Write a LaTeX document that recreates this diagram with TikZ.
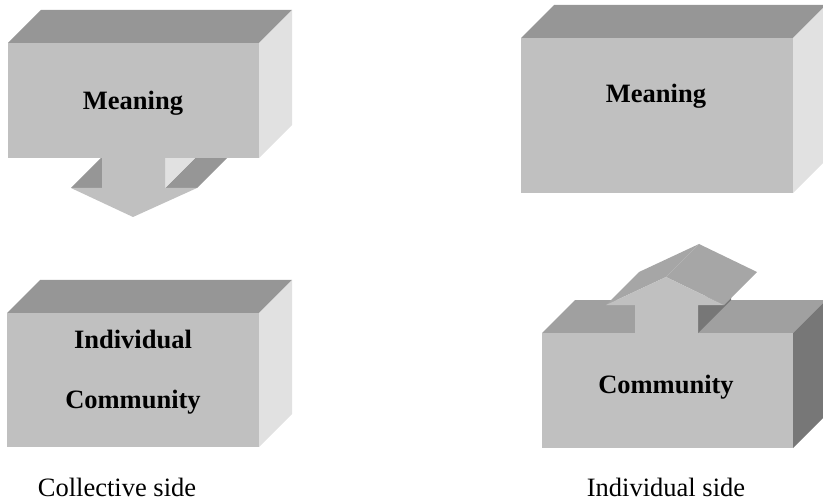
\documentclass[tikz,border=0pt]{standalone}
\usepackage{fontspec}
\setmainfont{Liberation Serif}
\definecolor{frontC}{HTML}{C0C0C0}
\definecolor{topC}{HTML}{969696}
\definecolor{sideL}{HTML}{E1E1E1}
\definecolor{topB}{HTML}{A0A0A0}
\definecolor{sideD}{HTML}{777777}
\definecolor{headC}{HTML}{A6A6A6}
\tikzset{
  frontface/.style={fill=frontC},
  topface/.style={fill=topC},
  lightside/.style={fill=sideL},
  topfaceb/.style={fill=topB},
  darkside/.style={fill=sideD},
  headface/.style={fill=headC},
  boxlabel/.style={anchor=base, font=\fontsize{26.5bp}{30bp}\selectfont\bfseries, inner sep=0pt},
  sidelabel/.style={anchor=base, font=\fontsize{26.5bp}{30bp}\selectfont, inner sep=0pt}
}
\begin{document}
\begin{tikzpicture}[x=1bp,y=-1bp]
\useasboundingbox (0,0) rectangle (823,503);
\clip (0,0) rectangle (823,503);

% ---- Left top: down arrow (drawn first, box covers its back)
\fill[topface] (71,188) -- (102,188) -- (135,155) -- (104,155) -- cycle;
\fill[topface] (165,188) -- (197,188) -- (230,155) -- (198,155) -- cycle;
\fill[lightside] (165,188) -- (165,150) -- (198,117) -- (198,155) -- cycle;
\fill[frontface] (102,150) -- (165,150) -- (165,188) -- (197,188) -- (133,217) -- (71,188) -- (102,188) -- cycle;

% ---- Left top box
\fill[topface] (8,43) -- (41,10) -- (292,10) -- (259,43) -- cycle;
\fill[lightside] (259,43) -- (292,10) -- (292,125) -- (259,158) -- cycle;
\fill[frontface] (8,43) rectangle (259,158);
\node[boxlabel] (m1) at (133,110) {Meaning};

% ---- Left bottom box
\fill[topface] (7,313) -- (40,280) -- (292,280) -- (259,313) -- cycle;
\fill[lightside] (259,313) -- (292,280) -- (292,414) -- (259,447) -- cycle;
\fill[frontface] (7,313) rectangle (259,447);
\node[boxlabel] (ind) at (133,348) {Individual};
\node[boxlabel] (com1) at (133,408) {Community};

% ---- Right top box
\fill[topface] (521,38) -- (554,5) -- (826,5) -- (793,38) -- cycle;
\fill[lightside] (793,38) -- (826,5) -- (826,160) -- (793,193) -- cycle;
\fill[frontface] (521,38) rectangle (793,193);
\node[boxlabel] (m2) at (656,103) {Meaning};

% ---- Right bottom box
\fill[topfaceb] (542,333) -- (575,300) -- (826,300) -- (793,333) -- cycle;
\fill[darkside] (793,333) -- (826,300) -- (826,415) -- (793,448) -- cycle;
\fill[frontface] (542,333) rectangle (793,448);

% ---- Up arrow
\fill[darkside] (698,333) -- (698,305) -- (731,272) -- (731,300) -- cycle;
\fill[headface] (606,305) -- (666,277) -- (699,244) -- (639,272) -- cycle;
\fill[headface] (666,277) -- (724,305) -- (757,272) -- (699,244) -- cycle;
\fill[frontface] (635,334) -- (635,305) -- (606,305) -- (666,277) -- (724,305) -- (698,305) -- (698,334) -- cycle;
\node[boxlabel] (com2) at (666,393) {Community};

% ---- Captions
\node[sidelabel] (coll) at (117,496) {Collective side};
\node[sidelabel] (indiv) at (666,496) {Individual side};
\end{tikzpicture}
\end{document}
